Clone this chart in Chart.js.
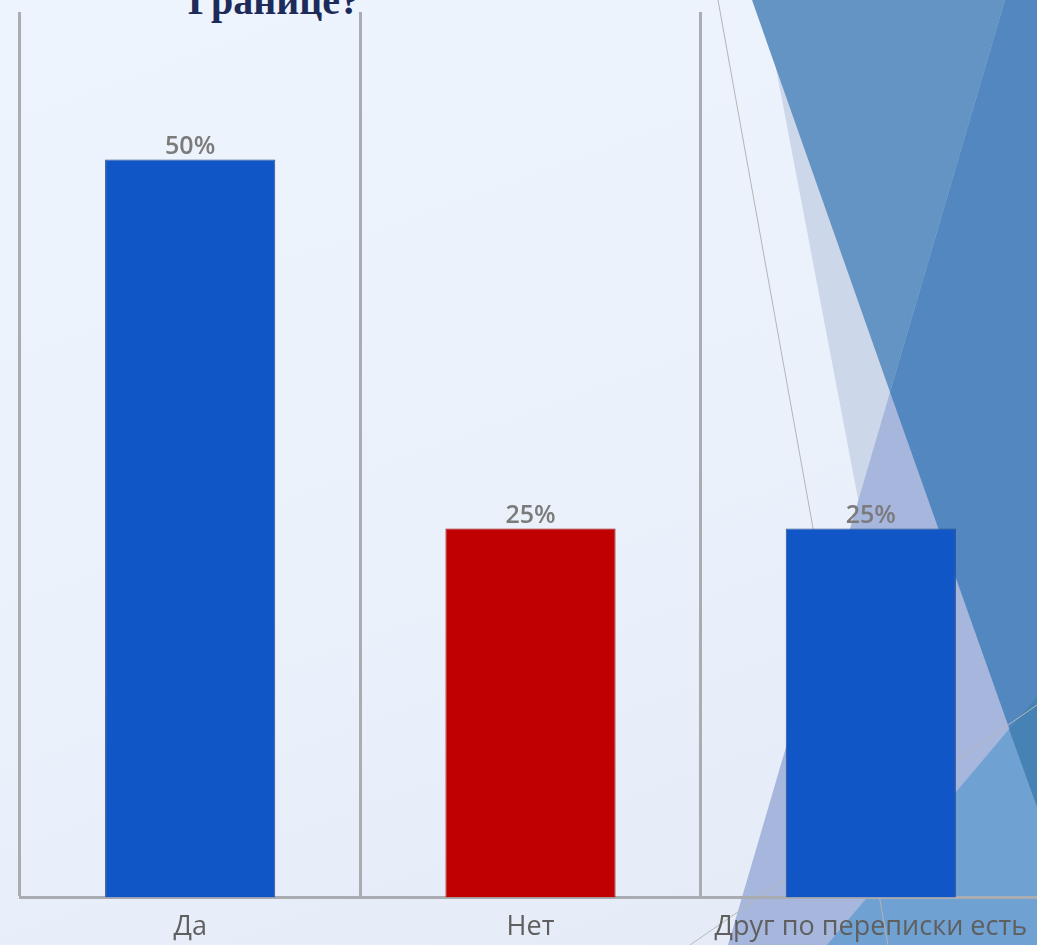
<!DOCTYPE html>
<html lang="ru">
<head>
<meta charset="utf-8">
<title>Друг за границей</title>
<script src="https://cdn.jsdelivr.net/npm/chart.js@4.4.1/dist/chart.umd.min.js"></script>
<style>
  html, body {
    margin: 0;
    padding: 0;
    width: 1037px;
    height: 945px;
    overflow: hidden;
    background: linear-gradient(160deg, #eef4fd 0%, #ebf1fb 55%, #e3eaf6 100%);
  }
  #deco {
    position: absolute;
    left: 0;
    top: 0;
  }
  #title {
    position: absolute;
    left: 188px;
    top: -19px;
    font-family: "Liberation Serif", "Times New Roman", serif;
    font-weight: bold;
    font-size: 40px;
    line-height: 1;
    color: #1c2b5a;
    white-space: nowrap;
  }
  #wrap {
    position: absolute;
    left: 0;
    top: 0;
    width: 1062px;
    height: 958px;
  }
</style>
</head>
<body>
<!-- slide decoration (theme facets on the right) -->
<svg id="deco" width="1037" height="945">
  <polygon points="763,0 1037,0 1037,945 943,945" fill="#cdd7ea" />
  <polygon points="1005,0 1037,0 1037,945 728,945" fill="#a6b6dc" />
  <polygon points="752,0 1005,0 890,392" fill="#6394c4" />
  <polygon points="1005,0 1037,0 1037,807 890,392" fill="#5387bf" />
  <polygon points="1037,696 1037,945 827,945" fill="#6fa1d3" />
  <polygon points="1037,696 1037,807 1009,729" fill="#4682b4" />
  <line x1="718" y1="0" x2="888" y2="945" stroke="#b4b4b4" stroke-width="1" />
  <line x1="1037" y1="705" x2="690" y2="945" stroke="#b8b8b8" stroke-width="1" />
</svg>
<div id="title">Границе?</div>
<div id="wrap"><canvas id="chart"></canvas></div>
<script>
const categories = ['Да', 'Нет', 'Друг по переписки есть'];
const shares = [0.5, 0.25, 0.25];
const barColors = ['#1056c6', '#c00000', '#1056c6'];
const barEdges = ['#2f4f86', '#9a1010', '#2f4f86'];
const yMax = 0.6;

const GRID_GREY = '#a9acb1';

// percent labels above each bar
const valueLabels = {
  id: 'valueLabels',
  afterDatasetsDraw(chart) {
    const ctx = chart.ctx;
    const meta = chart.getDatasetMeta(0);
    ctx.save();
    ctx.font = '600 25px "Open Sans", sans-serif';
    ctx.fillStyle = '#7b7b7b';
    ctx.textAlign = 'center';
    ctx.textBaseline = 'alphabetic';
    meta.data.forEach((bar, i) => {
      ctx.fillText(Math.round(shares[i] * 100) + '%', bar.x, bar.y - 6);
    });
    ctx.restore();
  },
};

const ctx = document.getElementById('chart').getContext('2d');
new Chart(ctx, {
  type: 'bar',
  data: {
    labels: categories,
    datasets: [{
      data: shares,
      backgroundColor: barColors,
      borderColor: barEdges,
      borderWidth: 1,
      barPercentage: 0.5,
      categoryPercentage: 1,
    }],
  },
  options: {
    responsive: true,
    maintainAspectRatio: false,
    animation: false,
    layout: { padding: { left: 20, right: 21, top: 12, bottom: 0 } },
    plugins: {
      legend: { display: false },
      tooltip: { enabled: false },
    },
    scales: {
      x: {
        grid: {
          offset: true,
          color: GRID_GREY,
          lineWidth: 3,
          drawTicks: false,
        },
        border: { display: true, color: GRID_GREY, width: 3 },
        ticks: {
          padding: 14,
          color: '#5f5f5f',
          font: { family: '"Open Sans", sans-serif', size: 27 },
          maxRotation: 0,
          autoSkip: false,
        },
      },
      y: {
        display: false,
        min: 0,
        max: yMax,
      },
    },
  },
  plugins: [valueLabels],
});
</script>
</body>
</html>
